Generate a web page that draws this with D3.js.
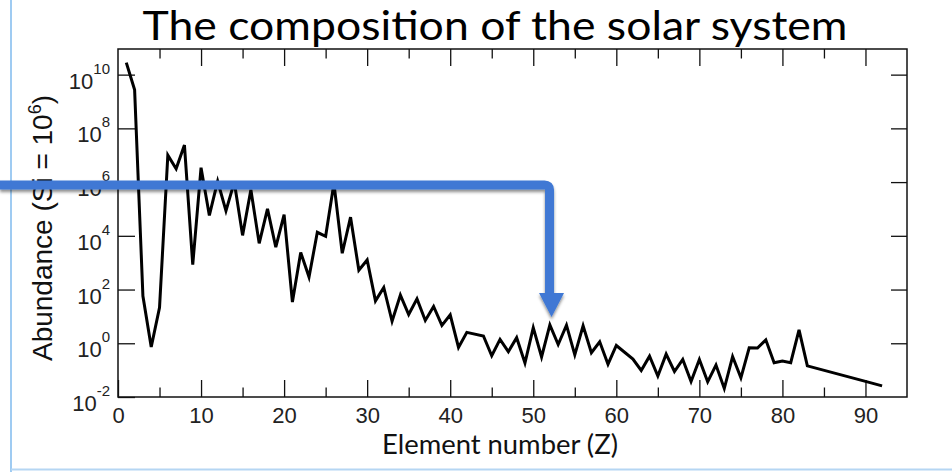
<!DOCTYPE html>
<html>
<head>
<meta charset="utf-8">
<script src="https://cdn.jsdelivr.net/npm/d3@7"></script>
<style>
  html, body { margin: 0; padding: 0; background: #fff; }
  svg { display: block; }
</style>
</head>
<body>
<svg id="chart" width="952" height="472"></svg>
<script>
// Solar-system abundances, normalised to Si = 10^6 (Tc and Pm have no stable isotopes)
const elementZ = [
  1, 2, 3, 4, 5, 6, 7, 8, 9, 10,
  11, 12, 13, 14, 15, 16, 17, 18, 19, 20,
  21, 22, 23, 24, 25, 26, 27, 28, 29, 30,
  31, 32, 33, 34, 35, 36, 37, 38, 39, 40,
  41, 42, 44, 45, 46, 47, 48, 49, 50,
  51, 52, 53, 54, 55, 56, 57, 58, 59, 60,
  62, 63, 64, 65, 66, 67, 68, 69, 70,
  71, 72, 73, 74, 75, 76, 77, 78, 79, 80,
  81, 82, 83, 90, 92
];
const abundance = [
  2.79e10, 2.72e9, 57.1, 0.73, 21.2, 1.01e7, 3.13e6, 2.38e7, 843, 3.44e6,
  5.74e4, 1.074e6, 8.49e4, 1.0e6, 1.04e4, 5.15e5, 5240, 1.01e5, 3770, 6.11e4,
  34.2, 2400, 293, 1.35e4, 9550, 9.0e5, 2250, 4.93e4, 522, 1260,
  37.8, 119, 6.56, 62.1, 11.8, 45, 7.09, 23.5, 4.64, 11.4,
  0.698, 2.55, 1.86, 0.344, 1.39, 0.486, 1.61, 0.184, 3.82,
  0.309, 4.81, 0.90, 4.7, 0.372, 4.49, 0.446, 1.136, 0.167, 0.828,
  0.258, 0.0973, 0.33, 0.0603, 0.394, 0.0889, 0.251, 0.0378, 0.248,
  0.0367, 0.154, 0.0207, 0.32, 0.0517, 0.675, 0.661, 1.34, 0.187, 0.22,
  0.19, 3.15, 0.144, 0.038, 0.026
];

const xMajorTicks = [0, 10, 20, 30, 40, 50, 60, 70, 80, 90];
const xMinorTicks = [5, 15, 25, 35, 45, 55, 65, 75, 85];
const yTickExponents = [-2, 0, 2, 4, 6, 8, 10];

const chartTitle = "The composition of the solar system";
const xTitle = "Element number (Z)";
const yTitleMain = "Abundance (Si = 10";
const yTitleSup = "6";
const yTitleEnd = ")";

// Arrow pointing at the Te/Xe peak
const arrowTarget = { z: 52.2, value: 9.5 };
const arrowLevel = 7.8e5;

const svg = d3.select("#chart");

const frame = { left: 118, right: 907, top: 49, bottom: 397 };

const x = d3.scaleLinear().domain([0, 95]).range([frame.left, frame.right]);
const y = d3.scaleLog().domain([1e-2, 9e10]).range([frame.bottom, frame.top]);

// Slide edges
svg.append("line")
  .attr("x1", 11).attr("x2", 11).attr("y1", 0).attr("y2", 472)
  .attr("stroke", "#9fcbf2").attr("stroke-width", 2);
svg.append("line")
  .attr("x1", 11).attr("x2", 952).attr("y1", 469.5).attr("y2", 469.5)
  .attr("stroke", "#b5d6f3").attr("stroke-width", 2);

const tickFont = "'Liberation Sans', Arial, Helvetica, sans-serif";
const major = 17, minor = 9.5;

function styleAxis(g) {
  g.select(".domain").remove();
  g.selectAll(".tick line").attr("stroke", "#111").attr("stroke-width", 1.3);
  g.selectAll(".tick text")
    .attr("font-family", tickFont)
    .attr("font-size", 22)
    .attr("fill", "#222");
}

// Bottom axis
svg.append("g")
  .attr("transform", `translate(0,${frame.bottom})`)
  .call(d3.axisBottom(x).tickValues(xMajorTicks).tickSize(-major).tickPadding(10)
    .tickFormat(d3.format("d")))
  .call(styleAxis);
svg.append("g")
  .attr("transform", `translate(0,${frame.bottom})`)
  .call(d3.axisBottom(x).tickValues(xMinorTicks).tickSize(-minor).tickFormat(""))
  .call(styleAxis);

// Top axis
svg.append("g")
  .attr("transform", `translate(0,${frame.top})`)
  .call(d3.axisTop(x).tickValues(xMajorTicks.slice(1)).tickSize(-major).tickFormat(""))
  .call(styleAxis);
svg.append("g")
  .attr("transform", `translate(0,${frame.top})`)
  .call(d3.axisTop(x).tickValues(xMinorTicks).tickSize(-minor).tickFormat(""))
  .call(styleAxis);

// Left axis with 10^n labels
const yTicks = yTickExponents.map(e => Math.pow(10, e));
const yLeft = svg.append("g")
  .attr("transform", `translate(${frame.left},0)`)
  .call(d3.axisLeft(y).tickValues(yTicks).tickSize(-major).tickPadding(8).tickFormat(""))
  .call(styleAxis);
yLeft.selectAll(".tick text").each(function(d) {
  const t = d3.select(this);
  const e = Math.round(Math.log10(d));
  t.text(null).attr("dy", null).attr("y", 13.5);
  t.append("tspan").text("10");
  t.append("tspan").attr("font-size", 15).attr("dy", -15).text(String(e));
});

// Right axis
svg.append("g")
  .attr("transform", `translate(${frame.right},0)`)
  .call(d3.axisRight(y).tickValues(yTicks.slice(1)).tickSize(-16).tickFormat(""))
  .call(styleAxis);

// Frame
svg.append("rect")
  .attr("x", frame.left).attr("y", frame.top)
  .attr("width", frame.right - frame.left).attr("height", frame.bottom - frame.top)
  .attr("fill", "none").attr("stroke", "#111").attr("stroke-width", 1.5);

// Abundance curve
const points = elementZ.map((z, i) => [z, abundance[i]]);
svg.append("path")
  .datum(points)
  .attr("fill", "none")
  .attr("stroke", "#000")
  .attr("stroke-width", 3)
  .attr("stroke-linejoin", "miter")
  .attr("d", d3.line().x(d => x(d[0])).y(d => y(d[1])));

// Titles
const titleFont = "Lato, 'Open Sans', sans-serif";
svg.append("text")
  .attr("x", 495).attr("y", 40)
  .attr("text-anchor", "middle")
  .attr("font-family", titleFont)
  .attr("font-size", 40)
  .attr("textLength", 705).attr("lengthAdjust", "spacingAndGlyphs")
  .attr("fill", "#000")
  .text(chartTitle);

svg.append("text")
  .attr("x", 500).attr("y", 454)
  .attr("text-anchor", "middle")
  .attr("font-family", titleFont)
  .attr("font-size", 26)
  .attr("textLength", 236).attr("lengthAdjust", "spacingAndGlyphs")
  .attr("fill", "#111")
  .text(xTitle);

const yt = svg.append("text")
  .attr("transform", "translate(52,228) rotate(-90)")
  .attr("text-anchor", "middle")
  .attr("font-family", tickFont)
  .attr("font-size", 28)
  .attr("fill", "#111");
yt.append("tspan").text(yTitleMain);
yt.append("tspan").attr("font-size", 18).attr("dy", -11).text(yTitleSup);
yt.append("tspan").attr("dy", 11).text(yTitleEnd);

// Callout arrow
const defs = svg.append("defs");
const sh = defs.append("filter").attr("id", "shadow")
  .attr("x", "-10%").attr("y", "-50%").attr("width", "120%").attr("height", "200%");
sh.append("feDropShadow")
  .attr("dx", 0).attr("dy", 2.5).attr("stdDeviation", 1.8)
  .attr("flood-color", "#000").attr("flood-opacity", 0.45);

const ax = x(arrowTarget.z);
const tipY = y(arrowTarget.value);
const levelY = y(arrowLevel);
const headH = 24, headW = 25, r = 5;
const arrow = svg.append("g").attr("filter", "url(#shadow)");
arrow.append("path")
  .attr("d", `M0,${levelY} L${ax - 2 - r},${levelY} Q${ax - 2},${levelY} ${ax - 2},${levelY + r} L${ax - 2},${tipY - headH + 1}`)
  .attr("fill", "none")
  .attr("stroke", "#3f78d4")
  .attr("stroke-width", 9);
arrow.append("path")
  .attr("d", `M${ax - headW / 2},${tipY - headH} L${ax + headW / 2},${tipY - headH} L${ax},${tipY} Z`)
  .attr("fill", "#3f78d4");
</script>
</body>
</html>
